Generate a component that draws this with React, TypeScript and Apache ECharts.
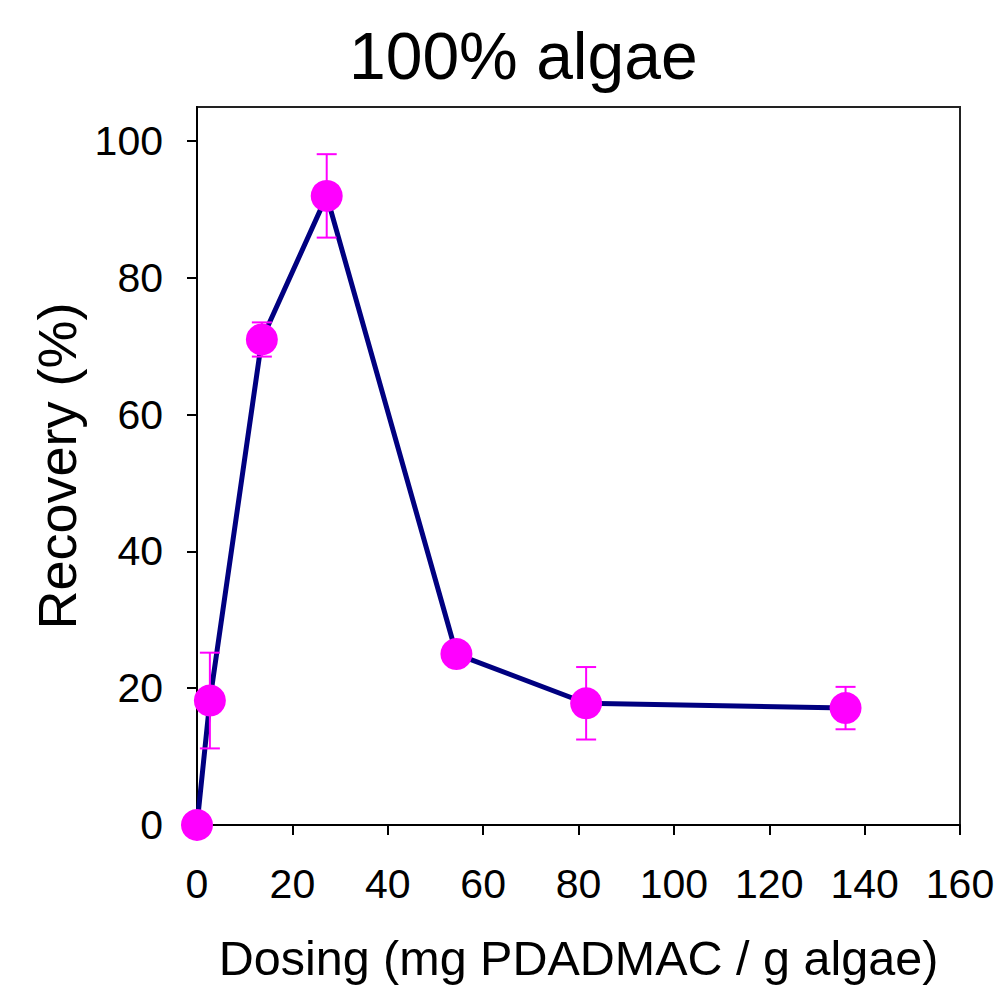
import React, { useEffect, useRef } from "react";
import * as echarts from "echarts";

const dosing = [0, 2.7, 13.6, 27.2, 54.4, 81.6, 136];
const recovery = [0, 18.2, 71, 92, 25, 17.8, 17.1];
const errors = [0, 7, 2.5, 6.1, 1.6, 5.3, 3.1];
const xTicks = [0, 20, 40, 60, 80, 100, 120, 140, 160];
const yTicks = [0, 20, 40, 60, 80, 100];

const FONT = "'Liberation Sans', Arial, sans-serif";

export default function App() {
  const ref = useRef<HTMLDivElement>(null);
  useEffect(() => {
    if (!ref.current) return;
    const chart = echarts.init(ref.current, null, { renderer: "svg" });
    const lineData = dosing.map((x, i) => [x, recovery[i]]);
    const errData = dosing.map((x, i) => [x, recovery[i] - errors[i], recovery[i] + errors[i]]);
    chart.setOption({
      animation: false,
      backgroundColor: "#fff",
      title: {
        text: "100% algae",
        left: 344,
        top: 18,
        textStyle: { fontFamily: FONT, fontSize: 66, fontWeight: "normal", color: "#000" },
      },
      grid: {
        left: 197,
        right: 41,
        top: 107,
        bottom: 163,
        show: true,
        borderColor: "#222",
        borderWidth: 2,
        backgroundColor: "transparent",
      },
      xAxis: {
        type: "value",
        min: 0,
        max: 160,
        interval: 20,
        name: "Dosing (mg PDADMAC / g algae)",
        nameLocation: "middle",
        nameGap: 108,
        nameTextStyle: { fontFamily: FONT, fontSize: 48.5, color: "#000" },
        axisLine: { show: true, onZero: false, lineStyle: { color: "#000", width: 2 } },
        axisTick: { show: true, length: 10, lineStyle: { color: "#000", width: 2 }, customValues: xTicks },
        axisLabel: { fontFamily: FONT, fontSize: 41, color: "#000", margin: 38, customValues: xTicks },
        splitLine: { show: false },
      },
      yAxis: {
        type: "value",
        min: 0,
        max: 105,
        interval: 20,
        name: "Recovery (%)",
        nameLocation: "middle",
        nameGap: 108,
        nameTextStyle: { fontFamily: FONT, fontSize: 54, color: "#000" },
        axisLine: { show: true, lineStyle: { color: "#000", width: 2 } },
        axisTick: { show: true, length: 10, lineStyle: { color: "#000", width: 2 }, customValues: yTicks },
        axisLabel: { fontFamily: FONT, fontSize: 41, color: "#000", margin: 34, customValues: yTicks },
        splitLine: { show: false },
      },
      series: [
        {
          type: "line",
          data: lineData,
          showSymbol: false,
          symbol: "none",
          lineStyle: { color: "#000080", width: 5 },
          z: 2,
        },
        {
          type: "custom",
          data: errData,
          z: 3,
          renderItem: (params: any, api: any) => {
            const x = api.value(0);
            const lo = api.coord([x, api.value(1)]);
            const hi = api.coord([x, api.value(2)]);
            const hw = 10;
            const style = { stroke: "#FF00FF", lineWidth: 2 };
            return {
              type: "group",
              children: [
                { type: "line", shape: { x1: lo[0], y1: lo[1], x2: hi[0], y2: hi[1] }, style },
                { type: "line", shape: { x1: lo[0] - hw, y1: lo[1], x2: lo[0] + hw, y2: lo[1] }, style },
                { type: "line", shape: { x1: hi[0] - hw, y1: hi[1], x2: hi[0] + hw, y2: hi[1] }, style },
              ],
            };
          },
          encode: { x: 0, y: [1, 2] },
        },
        {
          type: "scatter",
          data: lineData,
          symbol: "circle",
          symbolSize: 32,
          itemStyle: { color: "#FF00FF", opacity: 1 },
          z: 4,
        },
      ],
    });
    return () => chart.dispose();
  }, []);
  return (
    <div
      ref={ref}
      style={{ position: "fixed", left: 0, top: 0, width: 1001, height: 988, background: "#fff" }}
    />
  );
}
